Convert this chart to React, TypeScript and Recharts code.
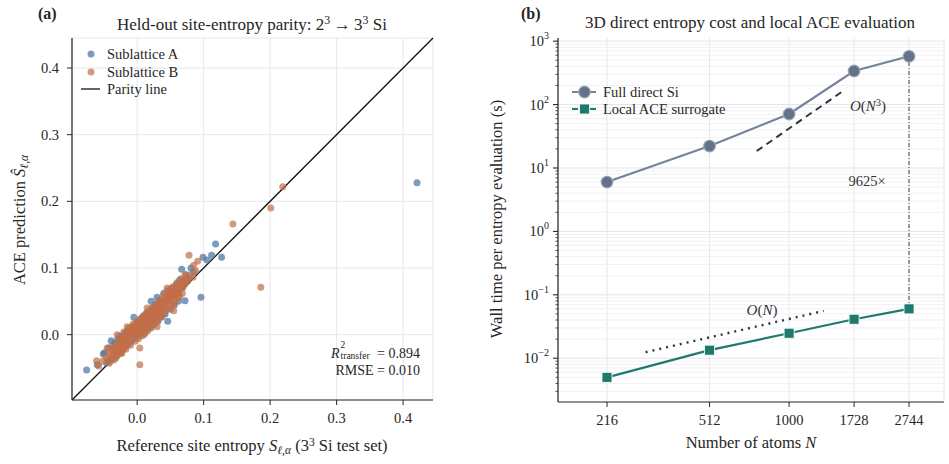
import React from "react";
import {
  ScatterChart,
  Scatter,
  LineChart,
  Line,
  XAxis,
  YAxis,
  CartesianGrid,
  ReferenceLine,
} from "recharts";

const SERIF = '"Liberation Serif", "Times New Roman", Times, "DejaVu Serif", serif';
const INK = "#262626";
const GRID = "#e6e6ee";

// (a) held-out 3^3 Si site entropies: [reference, ACE prediction]
const SUBLATTICE_A: [number, number][] = [
  [-0.076, -0.053], [-0.06, -0.045], [-0.051, -0.029], [-0.049, -0.027], [-0.046, -0.042],
  [-0.043, -0.02], [-0.041, -0.04], [-0.039, -0.009], [-0.037, -0.036], [-0.034, -0.013],
  [-0.031, -0.032], [-0.029, -0.007], [-0.027, -0.002], [-0.025, -0.027], [-0.023, -0.003],
  [-0.021, -0.022], [-0.02, -0.016], [-0.019, 0.002], [-0.017, -0.017], [-0.015, 0.005],
  [-0.013, -0.014], [-0.011, 0.009], [-0.009, -0.01], [-0.007, 0.012], [-0.005, 0.026],
  [-0.004, -0.006], [-0.002, 0.016], [0.0, -0.003], [0.002, 0.02], [0.004, 0.001],
  [0.006, 0.024], [0.008, 0.003], [0.01, 0.028], [0.012, 0.006], [0.014, 0.032],
  [0.016, 0.009], [0.018, 0.036], [0.02, 0.012], [0.021, 0.05], [0.023, 0.04],
  [0.025, 0.016], [0.028, 0.046], [0.03, 0.056], [0.031, 0.02], [0.034, 0.05],
  [0.037, 0.027], [0.04, 0.062], [0.042, 0.031], [0.046, 0.02], [0.048, 0.066],
  [0.05, 0.038], [0.053, 0.07], [0.056, 0.045], [0.059, 0.076], [0.062, 0.05],
  [0.064, 0.082], [0.067, 0.098], [0.069, 0.072], [0.072, 0.051], [0.074, 0.09],
  [0.078, 0.084], [0.081, 0.1], [0.085, 0.094], [0.096, 0.056], [0.099, 0.116],
  [0.105, 0.112], [0.112, 0.119], [0.118, 0.136], [0.127, 0.116], [0.421, 0.228],
];

const SUBLATTICE_B: [number, number][] = [
  [-0.061, -0.039], [-0.058, -0.047], [-0.052, -0.04], [-0.047, -0.033], [-0.045, -0.02],
  [-0.044, -0.038], [-0.042, -0.028], [-0.042, -0.043], [-0.04, -0.034], [-0.038, -0.025],
  [-0.038, -0.018], [-0.036, -0.031], [-0.035, -0.02], [-0.035, -0.038], [-0.034, -0.024],
  [-0.033, -0.027], [-0.032, -0.017], [-0.032, -0.035], [-0.031, -0.019], [-0.03, -0.023],
  [-0.03, 0.0], [-0.029, -0.03], [-0.029, -0.025], [-0.028, -0.015], [-0.028, -0.008],
  [-0.027, -0.021], [-0.026, -0.008], [-0.026, -0.014], [-0.025, -0.018], [-0.025, -0.028],
  [-0.024, -0.024], [-0.024, -0.019], [-0.023, -0.012], [-0.023, -0.028], [-0.022, -0.016],
  [-0.022, -0.01], [-0.021, -0.005], [-0.021, -0.02], [-0.02, -0.013], [-0.02, -0.002],
  [-0.02, 0.004], [-0.019, -0.019], [-0.019, -0.009], [-0.018, -0.008], [-0.018, -0.015],
  [-0.017, -0.002], [-0.017, -0.022], [-0.016, -0.011], [-0.016, -0.004], [-0.015, -0.006],
  [-0.015, 0.012], [-0.014, 0.001], [-0.014, -0.01], [-0.013, -0.009], [-0.013, 0.003],
  [-0.013, 0.01], [-0.012, -0.003], [-0.011, 0.004], [-0.011, -0.002], [-0.01, -0.006],
  [-0.01, 0.006], [-0.01, -0.016], [-0.009, 0.0], [-0.008, 0.007], [-0.008, -0.002],
  [-0.008, 0.012], [-0.007, -0.003], [-0.007, 0.009], [-0.006, 0.003], [-0.006, 0.016],
  [-0.005, 0.01], [-0.005, 0.004], [-0.004, 0.001], [-0.004, 0.012], [-0.003, 0.006],
  [-0.003, -0.01], [-0.002, 0.013], [-0.002, 0.002], [-0.001, 0.003], [-0.001, 0.01],
  [0.0, 0.009], [0.0, 0.02], [0.001, 0.015], [0.001, 0.004], [0.002, 0.006],
  [0.002, 0.016], [0.002, -0.006], [0.003, 0.011], [0.003, 0.003], [0.004, 0.018],
  [0.004, -0.02], [0.004, -0.045], [0.005, 0.008], [0.005, 0.014], [0.005, 0.024],
  [0.006, 0.014], [0.006, 0.007], [0.007, 0.02], [0.007, -0.002], [0.008, 0.011],
  [0.008, 0.018], [0.009, 0.017], [0.009, 0.01], [0.009, 0.028], [0.01, 0.023],
  [0.01, 0.0], [0.01, 0.026], [0.011, 0.013], [0.011, 0.021], [0.012, 0.019],
  [0.012, 0.012], [0.012, 0.002], [0.013, 0.026], [0.014, 0.016], [0.014, 0.024],
  [0.014, 0.032], [0.015, 0.022], [0.015, 0.015], [0.015, 0.04], [0.016, 0.029],
  [0.016, 0.006], [0.017, 0.019], [0.017, 0.027], [0.018, 0.025], [0.018, 0.018],
  [0.019, 0.031], [0.019, 0.036], [0.02, 0.022], [0.02, 0.03], [0.021, 0.028],
  [0.021, 0.02], [0.021, 0.01], [0.022, 0.035], [0.023, 0.025], [0.023, 0.033],
  [0.024, 0.031], [0.024, 0.024], [0.024, 0.042], [0.025, 0.038], [0.025, 0.015],
  [0.026, 0.028], [0.026, 0.036], [0.026, 0.016], [0.027, 0.034], [0.027, 0.026],
  [0.028, 0.041], [0.029, 0.031], [0.029, 0.04], [0.029, 0.046], [0.03, 0.037],
  [0.03, 0.024], [0.03, 0.012], [0.031, 0.033], [0.031, 0.02], [0.032, 0.044],
  [0.033, 0.034], [0.033, 0.045], [0.034, 0.04], [0.034, 0.036], [0.034, 0.052],
  [0.035, 0.048], [0.035, 0.026], [0.036, 0.038], [0.036, 0.047], [0.036, 0.026],
  [0.038, 0.044], [0.038, 0.04], [0.039, 0.052], [0.039, 0.058], [0.04, 0.042],
  [0.04, 0.053], [0.041, 0.045], [0.041, 0.032], [0.042, 0.048], [0.043, 0.052],
  [0.043, 0.038], [0.044, 0.056], [0.044, 0.062], [0.045, 0.046], [0.045, 0.058],
  [0.045, 0.07], [0.046, 0.066], [0.046, 0.038], [0.047, 0.053], [0.048, 0.055],
  [0.049, 0.06], [0.049, 0.068], [0.05, 0.05], [0.051, 0.062], [0.051, 0.044],
  [0.052, 0.058], [0.053, 0.06], [0.054, 0.065], [0.054, 0.072], [0.055, 0.044],
  [0.055, 0.036], [0.056, 0.056], [0.057, 0.068], [0.057, 0.05], [0.058, 0.063],
  [0.059, 0.062], [0.06, 0.07], [0.06, 0.078], [0.061, 0.073], [0.062, 0.062],
  [0.062, 0.055], [0.063, 0.066], [0.064, 0.069], [0.064, 0.058], [0.066, 0.076],
  [0.066, 0.084], [0.067, 0.074], [0.068, 0.07], [0.068, 0.062], [0.069, 0.08],
  [0.07, 0.078], [0.072, 0.076], [0.072, 0.09], [0.073, 0.083], [0.074, 0.084],
  [0.076, 0.08], [0.078, 0.119], [0.08, 0.09], [0.084, 0.086], [0.085, 0.104],
  [0.088, 0.096], [0.091, 0.11], [0.144, 0.166], [0.186, 0.071], [0.201, 0.19],
  [0.219, 0.222],
];

const PARITY_TICKS = [0, 0.1, 0.2, 0.3, 0.4];
const PARITY_RANGE: [number, number] = [-0.098, 0.445];

// (b) wall time per entropy evaluation (s) against atom count
const ATOMS = [216, 512, 1000, 1728, 2744];
const FULL_DIRECT = [6.0, 22.2, 71, 339, 577.5];
const LOCAL_ACE = [0.005, 0.0134, 0.0248, 0.0412, 0.06];
const CUBIC_GUIDE: [number, number][] = [[761, 18.5], [1567, 161.5]];
const LINEAR_GUIDE: [number, number][] = [[299, 0.01245], [1337, 0.0557]];
const SPEEDUP_LABEL = "9625×";
const TIME_RANGE: [number, number] = [0.00204, 1122];
const ATOM_RANGE: [number, number] = [143, 3683];

const SLATE = "#76839a";
const SLATE_DOT = "#627289";
const TEAL = "#1e7a6d";
const BLUE = "#4a76a4";
const ORANGE = "#c26f48";

const siteA = SUBLATTICE_A.map(([x, y]) => ({ x, y }));
const siteB = SUBLATTICE_B.map(([x, y]) => ({ x, y }));
const fullData = ATOMS.map((n, i) => ({ n, t: FULL_DIRECT[i] }));
const aceData = ATOMS.map((n, i) => ({ n, t: LOCAL_ACE[i] }));
const cubicData = CUBIC_GUIDE.map(([n, t]) => ({ n, t }));
const linearData = LINEAR_GUIDE.map(([n, t]) => ({ n, t }));

// major decades plus the 2..9 minor steps that fall inside the axis range
const timeTicks: number[] = [];
for (let d = -3; d <= 3; d++) {
  for (let k = 1; k <= 9; k++) {
    const v = k * Math.pow(10, d);
    if (v >= TIME_RANGE[0] && v <= TIME_RANGE[1]) timeTicks.push(v);
  }
}
const isDecade = (v: number) => {
  const e = Math.round(Math.log10(v));
  return Math.abs(v / Math.pow(10, e) - 1) < 1e-6;
};

const tickStyle = { fontFamily: SERIF, fontSize: 14.5, fill: INK };

const LogTick = (props: any) => {
  const { x, y, payload } = props;
  const v = payload.value as number;
  const major = isDecade(v);
  const e = Math.round(Math.log10(v));
  const len = major ? 5 : 2.5;
  return (
    <g>
      <line x1={x - len} x2={x} y1={y} y2={y} stroke={INK} strokeWidth={major ? 1.1 : 0.8} />
      {major && (
        <text x={x - 9} y={y + 5} textAnchor="end" fontFamily={SERIF} fontSize={14.5} fill={INK}>
          10
          <tspan dy={-7} fontSize={10}>
            {e < 0 ? `\u2212${-e}` : String(e)}
          </tspan>
        </text>
      )}
    </g>
  );
};

const dotA = (p: any) => <circle cx={p.cx} cy={p.cy} r={3.5} fill={BLUE} fillOpacity={0.72} />;
const dotB = (p: any) => <circle cx={p.cx} cy={p.cy} r={3.5} fill={ORANGE} fillOpacity={0.7} />;

const squareDot = (p: any) => (
  <rect
    key={`sq-${p.index}`}
    x={p.cx - 5}
    y={p.cy - 5}
    width={10}
    height={10}
    fill={TEAL}
    stroke="#ffffff"
    strokeWidth={0.8}
  />
);

const abs = (left: number, top: number, extra: React.CSSProperties = {}): React.CSSProperties => ({
  position: "absolute",
  left,
  top,
  whiteSpace: "nowrap",
  lineHeight: 1,
  ...extra,
});

const sup: React.CSSProperties = { fontSize: "0.7em", verticalAlign: "0.45em", lineHeight: 0 };
const sub: React.CSSProperties = { fontSize: "0.7em", verticalAlign: "-0.3em", lineHeight: 0 };

export default function App() {
  return (
    <div
      style={{
        position: "absolute",
        left: 0,
        top: 0,
        width: 949,
        height: 464,
        background: "#ffffff",
        fontFamily: SERIF,
        color: INK,
        overflow: "hidden",
      }}
    >
      {/* (a) parity plot */}
      <div style={{ position: "absolute", left: 0, top: 0 }}>
        <ScatterChart width={475} height={464} margin={{ top: 38, right: 42, bottom: 34, left: 32 }}>
          <CartesianGrid stroke={GRID} strokeWidth={1} />
          <XAxis
            type="number"
            dataKey="x"
            domain={PARITY_RANGE}
            ticks={PARITY_TICKS}
            tickFormatter={(v: number) => v.toFixed(1)}
            allowDataOverflow
            height={30}
            axisLine={{ stroke: INK, strokeWidth: 1.2 }}
            tickLine={{ stroke: INK }}
            tickSize={5}
            tickMargin={8}
            tick={tickStyle}
          />
          <YAxis
            type="number"
            dataKey="y"
            domain={PARITY_RANGE}
            ticks={PARITY_TICKS}
            tickFormatter={(v: number) => v.toFixed(1)}
            allowDataOverflow
            width={40}
            axisLine={{ stroke: INK, strokeWidth: 1.2 }}
            tickLine={{ stroke: INK }}
            tickSize={5}
            tickMargin={8}
            tick={tickStyle}
          />
          <Scatter data={siteA} isAnimationActive={false} shape={dotA} />
          <Scatter data={siteB} isAnimationActive={false} shape={dotB} />
          <ReferenceLine
            segment={[
              { x: PARITY_RANGE[0], y: PARITY_RANGE[0] },
              { x: PARITY_RANGE[1], y: PARITY_RANGE[1] },
            ]}
            stroke="#111111"
            strokeWidth={1.3}
          />
        </ScatterChart>
      </div>

      <div style={abs(38, 6, { fontWeight: "bold", fontSize: 16 })}>(a)</div>
      <div style={abs(252, 24, { fontSize: 17, transform: "translate(-50%, -50%)" })}>
        Held-out site-entropy parity: 2<span style={sup}>3</span>
        {"\u2009\u2192\u2009"}3<span style={sup}>3</span> Si
      </div>

      {/* legend (a) */}
      <svg style={{ position: "absolute", left: 0, top: 0 }} width={120} height={100}>
        <circle cx={91} cy={54} r={3.5} fill={BLUE} fillOpacity={0.72} />
        <circle cx={91} cy={72} r={3.5} fill={ORANGE} fillOpacity={0.7} />
        <line x1={81} x2={100} y1={89} y2={89} stroke="#111111" strokeWidth={1.3} />
      </svg>
      <div style={abs(107, 47, { fontSize: 14.5 })}>Sublattice A</div>
      <div style={abs(107, 65, { fontSize: 14.5 })}>Sublattice B</div>
      <div style={abs(107, 82, { fontSize: 14.5 })}>Parity line</div>

      {/* fit statistics */}
      <div style={abs(420, 344, { fontSize: 14, transform: "translateX(-100%)" })}>
        <i>R</i>
        <span style={{ position: "relative", display: "inline-block", width: 34, height: "1em" }}>
          <span style={{ position: "absolute", left: 1, top: -3, fontSize: 9.5 }}>2</span>
          <span style={{ position: "absolute", left: 1, top: 7.5, fontSize: 9.5 }}>transfer</span>
        </span>
        {" = 0.894"}
      </div>
      <div style={abs(420, 364, { fontSize: 14, transform: "translateX(-100%)" })}>RMSE = 0.010</div>

      <div style={abs(252, 446, { fontSize: 16.5, transform: "translate(-50%, -50%)" })}>
        Reference site entropy <i>S</i>
        <span style={sub}>
          <i>ℓ,α</i>
        </span>{" "}
        (3<span style={sup}>3</span> Si test set)
      </div>
      <div
        style={abs(20, 220, {
          fontSize: 16.5,
          transform: "translate(-50%, -50%) rotate(-90deg)",
        })}
      >
        ACE prediction <i>Ŝ</i>
        <span style={sub}>
          <i>ℓ,α</i>
        </span>
      </div>

      {/* (b) timing plot */}
      <div style={{ position: "absolute", left: 480, top: 0 }}>
        <LineChart width={469} height={464} margin={{ top: 38, right: 5, bottom: 32, left: 38 }}>
          <CartesianGrid stroke={GRID} horizontal={false} />
          {timeTicks.map((v) => (
            <ReferenceLine
              key={`g-${v}`}
              y={v}
              stroke={isDecade(v) ? "#e3e3eb" : "#f1f1f5"}
              strokeWidth={1}
            />
          ))}
          <XAxis
            type="number"
            dataKey="n"
            scale="log"
            domain={ATOM_RANGE}
            ticks={ATOMS}
            allowDataOverflow
            height={30}
            axisLine={{ stroke: INK, strokeWidth: 1.2 }}
            tickLine={{ stroke: INK }}
            tickSize={5}
            tickMargin={8}
            tick={tickStyle}
          />
          <YAxis
            type="number"
            dataKey="t"
            scale="log"
            domain={TIME_RANGE}
            ticks={timeTicks}
            allowDataOverflow
            width={40}
            axisLine={{ stroke: INK, strokeWidth: 1.2 }}
            tickLine={false}
            tickSize={0}
            tickMargin={0}
            interval={0}
            tick={<LogTick />}
          />
          <ReferenceLine
            segment={[
              { x: ATOMS[4], y: LOCAL_ACE[4] },
              { x: ATOMS[4], y: FULL_DIRECT[4] },
            ]}
            stroke="#555555"
            strokeWidth={1.1}
            strokeDasharray="4 2 1 2"
          />
          <Line
            data={cubicData}
            dataKey="t"
            stroke="#2e3540"
            strokeWidth={2}
            strokeDasharray="7 5"
            dot={false}
            isAnimationActive={false}
          />
          <Line
            data={linearData}
            dataKey="t"
            stroke="#2e3540"
            strokeWidth={2.4}
            strokeDasharray="2 5"
            dot={false}
            isAnimationActive={false}
          />
          <Line
            data={fullData}
            dataKey="t"
            stroke={SLATE}
            strokeWidth={2.2}
            dot={{ r: 5.8, fill: SLATE_DOT, stroke: "#9aa4b3", strokeWidth: 1.2, fillOpacity: 1 }}
            isAnimationActive={false}
          />
          <Line
            data={aceData}
            dataKey="t"
            stroke={TEAL}
            strokeWidth={2.2}
            dot={squareDot}
            isAnimationActive={false}
          />
        </LineChart>
      </div>

      <div style={abs(521, 6, { fontWeight: "bold", fontSize: 16 })}>(b)</div>
      <div style={abs(750, 22, { fontSize: 17, transform: "translate(-50%, -50%)" })}>
        3D direct entropy cost and local ACE evaluation
      </div>

      {/* legend (b) */}
      <svg style={{ position: "absolute", left: 560, top: 80 }} width={45} height={40}>
        <line x1={12} x2={37} y1={12} y2={12} stroke={SLATE} strokeWidth={2.2} strokeDasharray="6 3" />
        <circle cx={24.5} cy={12} r={5.8} fill={SLATE_DOT} stroke="#9aa4b3" strokeWidth={1.2} />
        <line x1={12} x2={37} y1={29} y2={29} stroke={TEAL} strokeWidth={2.2} strokeDasharray="6 3" />
        <rect x={19.5} y={24} width={10} height={10} fill={TEAL} stroke="#ffffff" strokeWidth={0.8} />
      </svg>
      <div style={abs(603, 85, { fontSize: 14.5 })}>Full direct Si</div>
      <div style={abs(603, 102, { fontSize: 14.5 })}>Local ACE surrogate</div>

      <div style={abs(868, 106, { fontSize: 15, color: "#333", transform: "translate(-50%, -50%)" })}>
        <i>O</i>(<i>N</i>
        <span style={sup}>3</span>)
      </div>
      <div style={abs(867, 181, { fontSize: 14.5, color: "#333", transform: "translate(-50%, -50%)" })}>
        {SPEEDUP_LABEL}
      </div>
      <div style={abs(762, 310, { fontSize: 15, color: "#333", transform: "translate(-50%, -50%)" })}>
        <i>O</i>(<i>N</i>)
      </div>

      <div style={abs(751, 443, { fontSize: 16.5, transform: "translate(-50%, -50%)" })}>
        Number of atoms <i>N</i>
      </div>
      <div
        style={abs(497, 219, {
          fontSize: 16.5,
          transform: "translate(-50%, -50%) rotate(-90deg)",
        })}
      >
        Wall time per entropy evaluation (s)
      </div>
    </div>
  );
}
